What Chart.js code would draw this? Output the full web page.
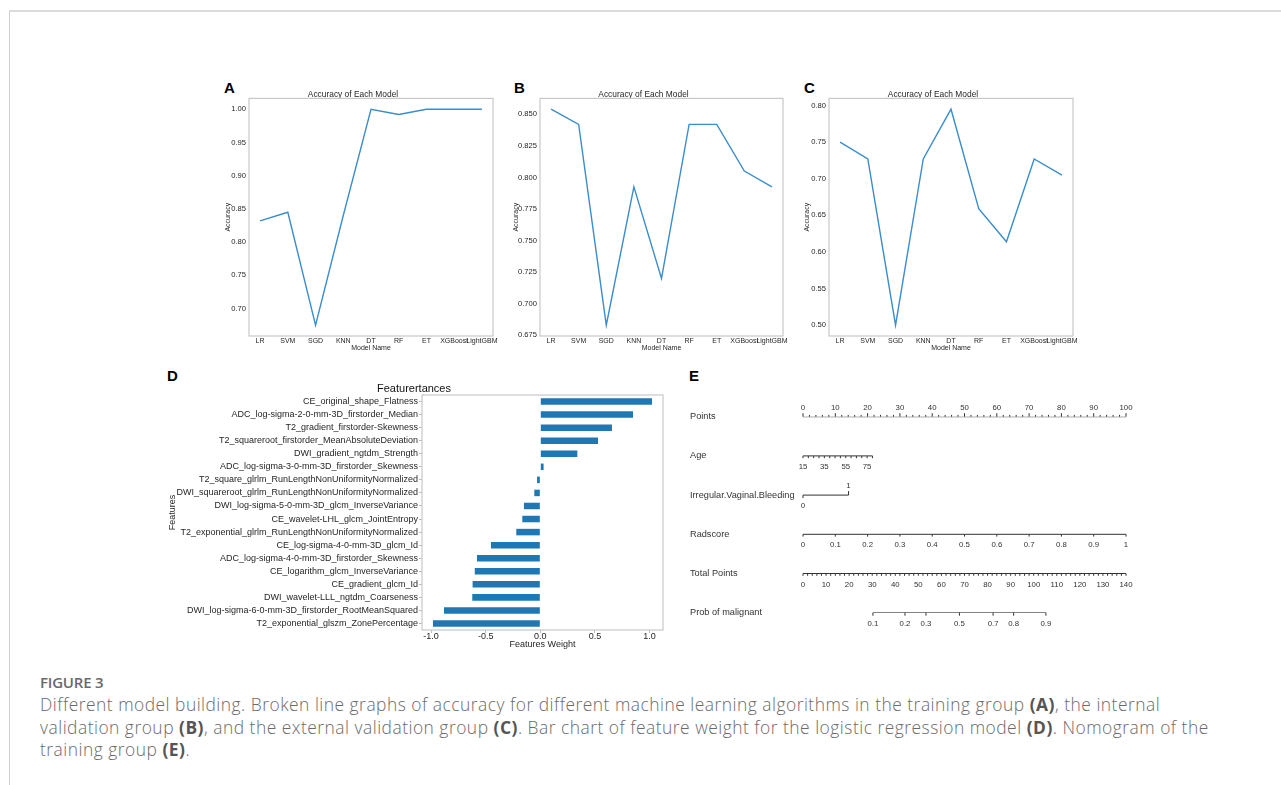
<!DOCTYPE html>
<html lang="en">
<head>
<meta charset="UTF-8">
<title>Figure 3</title>
<script src="https://cdn.jsdelivr.net/npm/chart.js"></script>
<style>
  body { margin: 0; background: #fff; width: 1281px; height: 785px; position: relative; overflow: hidden; }
  #frame { position: absolute; left: 9px; top: 10px; right: 0; bottom: 0; border-top: 2px solid #dcdcdc; border-left: 1px solid #cfcfcf; }
  canvas { position: absolute; }
  .lbl { position: absolute; font: bold 15px 'Liberation Sans', Arial, sans-serif; color: #000; line-height: 15px; }
  #caption { position: absolute; left: 40px; top: 672px; color: #6a6a6a; font-family: 'Open Sans', 'Noto Sans', sans-serif; }
  #caption .fig { font-size: 15px; font-weight: 600; line-height: 21px; letter-spacing: -0.2px; }
  #caption .txt { font-size: 17.4px; line-height: 22.5px; letter-spacing: 0.5px; font-weight: 300; }
  #caption b { color: #555; font-weight: 700; }
</style>
</head>
<body>
<div id="frame"></div>

<div class="lbl" style="left:224px;top:80px">A</div>
<div class="lbl" style="left:514px;top:80px">B</div>
<div class="lbl" style="left:804px;top:80px">C</div>
<div class="lbl" style="left:167px;top:368px">D</div>
<div class="lbl" style="left:689px;top:368px">E</div>

<canvas id="chartA" width="316" height="278" style="left:213px;top:78px"></canvas>
<canvas id="chartB" width="315" height="278" style="left:504px;top:78px"></canvas>
<canvas id="chartC" width="316" height="278" style="left:793px;top:78px"></canvas>
<canvas id="chartD" width="754" height="285" style="left:165px;top:370px"></canvas>
<canvas id="chartE" width="470" height="240" style="left:680px;top:395px"></canvas>

<div id="caption">
  <div class="fig">FIGURE 3</div>
  <div class="txt">Different model building. Broken line graphs of accuracy for different machine learning algorithms in the training group <b>(A)</b>, the internal<br>validation group <b>(B)</b>, and the external validation group <b>(C)</b>. Bar chart of feature weight for the logistic regression model <b>(D)</b>. Nomogram of the<br>training group <b>(E)</b>.</div>
</div>

<script>
// ---- data ----
const models = ['LR', 'SVM', 'SGD', 'KNN', 'DT', 'RF', 'ET', 'XGBoost', 'LightGBM'];
const accTrain = [0.832, 0.845, 0.675, 0.84, 1.0, 0.992, 1.0, 1.0, 1.0];
const accInternal = [0.854, 0.842, 0.683, 0.7925, 0.72, 0.842, 0.842, 0.805, 0.7925];
const accExternal = [0.75, 0.727, 0.50, 0.727, 0.795, 0.659, 0.614, 0.727, 0.705];
const ticksTrain = [0.70, 0.75, 0.80, 0.85, 0.90, 0.95, 1.00];
const ticksInternal = [0.675, 0.700, 0.725, 0.750, 0.775, 0.800, 0.825, 0.850];
const ticksExternal = [0.50, 0.55, 0.60, 0.65, 0.70, 0.75, 0.80];

const features = [
  'CE_original_shape_Flatness',
  'ADC_log-sigma-2-0-mm-3D_firstorder_Median',
  'T2_gradient_firstorder-Skewness',
  'T2_squareroot_firstorder_MeanAbsoluteDeviation',
  'DWI_gradient_ngtdm_Strength',
  'ADC_log-sigma-3-0-mm-3D_firstorder_Skewness',
  'T2_square_glrlm_RunLengthNonUniformityNormalized',
  'DWI_squareroot_glrlm_RunLengthNonUniformityNormalized',
  'DWI_log-sigma-5-0-mm-3D_glcm_InverseVariance',
  'CE_wavelet-LHL_glcm_JointEntropy',
  'T2_exponential_glrlm_RunLengthNonUniformityNormalized',
  'CE_log-sigma-4-0-mm-3D_glcm_Id',
  'ADC_log-sigma-4-0-mm-3D_firstorder_Skewness',
  'CE_logarithm_glcm_InverseVariance',
  'CE_gradient_glcm_Id',
  'DWI_wavelet-LLL_ngtdm_Coarseness',
  'DWI_log-sigma-6-0-mm-3D_firstorder_RootMeanSquared',
  'T2_exponential_glszm_ZonePercentage'
];
const weights = [1.023, 0.849, 0.656, 0.528, 0.339, 0.03, -0.03, -0.055, -0.15, -0.165,
                 -0.22, -0.452, -0.58, -0.60, -0.62, -0.623, -0.882, -0.983];
const weightTicks = [-1.0, -0.5, 0.0, 0.5, 1.0];

// nomogram
const nomoRows = ['Points', 'Age', 'Irregular.Vaginal.Bleeding', 'Radscore', 'Total Points', 'Prob of malignant'];
const pointsLabels = [0, 10, 20, 30, 40, 50, 60, 70, 80, 90, 100];
const ageLabels = [15, 35, 55, 75];
const ageRange = [15, 80];
const agePoints = [0, 21.5];
const bleedingLevels = [0, 1];
const bleedingPoints = [0, 14.1];
const radLabels = [0, 0.1, 0.2, 0.3, 0.4, 0.5, 0.6, 0.7, 0.8, 0.9, 1];
const totalLabels = [0, 10, 20, 30, 40, 50, 60, 70, 80, 90, 100, 110, 120, 130, 140];
const probLabels = [0.1, 0.2, 0.3, 0.5, 0.7, 0.8, 0.9];
const probTotalPoints = [30.3, 44.2, 53.3, 67.8, 82.4, 91.3, 105.3];

// ---- shared ----
const FONT = "'Liberation Sans', Arial, sans-serif";
const ink = '#262626';
Chart.defaults.font.family = FONT;
Chart.defaults.color = ink;

const framePlugin = {
  id: 'box',
  afterDatasetsDraw(chart) {
    const a = chart.chartArea, ctx = chart.ctx;
    ctx.save();
    ctx.strokeStyle = '#c8c8c8';
    ctx.lineWidth = 1.2;
    ctx.strokeRect(a.left, a.top, a.right - a.left, a.bottom - a.top);
    ctx.restore();
  }
};

function lineChart(id, values, yTicks, decimals, titlePad) {
  const lo = Math.min(...values), hi = Math.max(...values), m = (hi - lo) * 0.05;
  return new Chart(document.getElementById(id), {
    type: 'line',
    data: {
      datasets: [{
        data: values.map((v, i) => ({ x: i, y: v })),
        borderColor: '#3b8dcb',
        borderWidth: 1.4,
        pointRadius: 0,
        tension: 0
      }]
    },
    options: {
      responsive: false,
      animation: false,
      events: [],
      layout: { padding: { left: 0, right: 36, top: 0, bottom: 0 } },
      plugins: {
        legend: { display: false },
        tooltip: { enabled: false },
        title: {
          display: true, text: 'Accuracy of Each Model', color: ink,
          font: { size: 8.4, weight: 'normal', lineHeight: 1 },
          padding: { top: 12, bottom: 0 }
        }
      },
      scales: {
        x: {
          type: 'linear', min: -0.4, max: models.length - 0.6,
          grid: { display: false, drawTicks: false }, border: { display: false },
          afterBuildTicks: s => { s.ticks = models.map((_, i) => ({ value: i })); },
          afterFit: s => { s.height = 20; },
          ticks: { callback: v => models[v], font: { size: 7.0 }, padding: 0.5, maxRotation: 0, autoSkip: false },
          title: { display: true, text: 'Model Name', font: { size: 7 }, padding: { top: 0, bottom: 4 } }
        },
        y: {
          min: lo - m, max: hi + m,
          grid: { display: false, drawTicks: false }, border: { display: false },
          afterBuildTicks: s => { s.ticks = yTicks.map(v => ({ value: v })); },
          afterFit: s => { s.width = 36; },
          ticks: { callback: v => v.toFixed(decimals), font: { size: 7.6 }, padding: 3 },
          title: { display: true, text: 'Accuracy', font: { size: 7 }, padding: { top: titlePad, bottom: 0 } }
        }
      }
    },
    plugins: [framePlugin]
  });
}

lineChart('chartA', accTrain, ticksTrain, 2, 10.8);
lineChart('chartB', accInternal, ticksInternal, 3, 7.5);
lineChart('chartC', accExternal, ticksExternal, 2, 10);

// ---- D: feature weights ----
const wLo = Math.min(0, ...weights), wHi = Math.max(0, ...weights), wM = (wHi - wLo) * 0.05;
new Chart(document.getElementById('chartD'), {
  type: 'bar',
  data: {
    labels: features,
    datasets: [{ data: weights, backgroundColor: '#1f77b4', barPercentage: 0.5, categoryPercentage: 1.0 }]
  },
  options: {
    indexAxis: 'y',
    responsive: false,
    animation: false,
    events: [],
    layout: { padding: { left: 0, right: 256, top: 0, bottom: 0 } },
    plugins: {
      legend: { display: false },
      tooltip: { enabled: false },
      title: {
        display: true, text: 'Featurertances', color: '#111',
        font: { size: 11, weight: 'normal', lineHeight: 1 },
        padding: { top: 13.5, bottom: 0.5 }
      }
    },
    scales: {
      x: {
        min: wLo - wM, max: wHi + wM,
        grid: { drawOnChartArea: false, drawTicks: true, tickLength: 3, color: '#bbb' },
        border: { display: false },
        afterBuildTicks: s => { s.ticks = weightTicks.map(v => ({ value: v })); },
        afterFit: s => { s.height = 25; },
        ticks: { callback: v => v.toFixed(1), font: { size: 9 }, padding: -2 },
        title: { display: true, text: 'Features Weight', font: { size: 9 }, padding: { top: 0, bottom: 4.6 } }
      },
      y: {
        grid: { drawOnChartArea: false, drawTicks: true, tickLength: 3, color: '#bbb', offset: false },
        border: { display: false },
        afterFit: s => { s.width = 257; },
        ticks: { font: { size: 9 }, padding: 1, autoSkip: false },
        title: { display: true, text: 'Features', font: { size: 9 }, padding: { top: 2, bottom: 0 } }
      }
    }
  },
  plugins: [framePlugin]
});

// ---- E: nomogram ----
const nomoInk = '#333';
const ageToPts = v => agePoints[0] + (v - ageRange[0]) / (ageRange[1] - ageRange[0]) * (agePoints[1] - agePoints[0]);
const totalMax = totalLabels[totalLabels.length - 1];
const totalToPts = v => v * 100 / totalMax;

function range(a, b, step) {
  const out = [];
  for (let v = a; v <= b + 1e-9; v += step) out.push(Math.round(v * 1000) / 1000);
  return out;
}

const nomoAxes = [
  { row: 0, up: true, marks: range(0, 100, 2).map(v => ({ p: v, len: v % 10 === 0 ? 3.5 : 1.8, label: pointsLabels.includes(v) ? String(v) : null })) },
  { row: 1, up: false, marks: range(ageRange[0], ageRange[1], 5).map(v => ({ p: ageToPts(v), len: 2.3, label: ageLabels.includes(v) ? String(v) : null })) },
  { row: 2, marks: bleedingLevels.map((v, i) => ({ p: bleedingPoints[i], len: i ? 4 : 3, up: i === 1, label: String(v) })) },
  { row: 3, up: false, marks: radLabels.map(v => ({ p: v * 100, len: 2.3, label: String(v) })) },
  { row: 4, up: false, marks: range(0, totalMax, 2).map(v => ({ p: totalToPts(v), len: 2.3, label: totalLabels.includes(v) ? String(v) : null })) },
  { row: 5, up: false, marks: probLabels.map((v, i) => ({ p: totalToPts(probTotalPoints[i]), len: 3, label: String(v) })) }
];

const nomoPlugin = {
  id: 'nomo',
  afterDatasetsDraw(chart) {
    const { ctx } = chart, x = chart.scales.x, y = chart.scales.y;
    ctx.save();
    ctx.strokeStyle = nomoInk;
    ctx.fillStyle = nomoInk;
    ctx.lineWidth = 1;
    ctx.font = '7.8px ' + FONT;
    ctx.textAlign = 'center';
    ctx.textBaseline = 'middle';
    nomoAxes.forEach(ax => {
      const py = y.getPixelForValue(ax.row);
      ax.marks.forEach(m => {
        const up = m.up !== undefined ? m.up : ax.up;
        const d = up ? -1 : 1;
        const px = x.getPixelForValue(m.p);
        ctx.beginPath();
        ctx.moveTo(px, py);
        ctx.lineTo(px, py + d * m.len);
        ctx.stroke();
        if (m.label !== null) ctx.fillText(m.label, px, py + (up ? -9 : 11));
      });
    });
    ctx.restore();
  }
};

const nomoLines = nomoAxes.map(ax => {
  const ps = ax.marks.map(m => m.p);
  return {
    data: [{ x: Math.min(...ps), y: ax.row }, { x: Math.max(...ps), y: ax.row }],
    borderColor: nomoInk, borderWidth: 1, pointRadius: 0
  };
});

new Chart(document.getElementById('chartE'), {
  type: 'line',
  data: { datasets: nomoLines },
  options: {
    responsive: false,
    animation: false,
    events: [],
    layout: { padding: { left: 10, right: 24, top: 21.7, bottom: 22.3 } },
    plugins: { legend: { display: false }, tooltip: { enabled: false } },
    scales: {
      x: { type: 'linear', min: 0, max: 100, display: false },
      y: {
        type: 'linear', min: 0, max: nomoRows.length - 1, reverse: true,
        grid: { display: false }, border: { display: false },
        afterBuildTicks: s => { s.ticks = nomoRows.map((_, i) => ({ value: i })); },
        afterFit: s => { s.width = 113; },
        ticks: { callback: v => nomoRows[v], crossAlign: 'far', color: nomoInk, font: { size: 9.2 } }
      }
    }
  },
  plugins: [nomoPlugin]
});
</script>
</body>
</html>
